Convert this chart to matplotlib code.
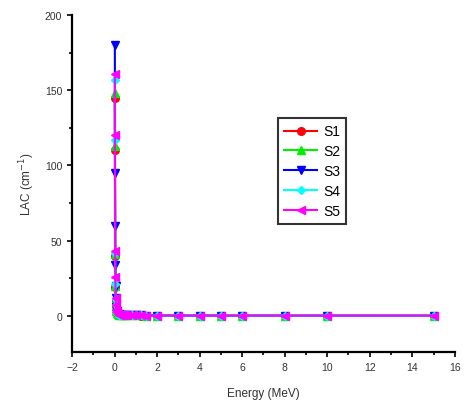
import numpy as np
import matplotlib.pyplot as plt

plt.rcParams['font.family'] = ['Liberation Sans', 'DejaVu Sans']

# photon energies (MeV)
energy = [0.015, 0.02, 0.03, 0.04, 0.05, 0.06, 0.08, 0.1, 0.15, 0.2, 0.3, 0.4,
          0.5, 0.6, 0.8, 1.0, 1.25, 1.5, 2.0, 3.0, 4.0, 5.0, 6.0, 8.0, 10.0, 15.0]

# linear attenuation coefficients (cm^-1)
s1 = [145, 110, 40, 19, 10.5, 6.5, 3.2, 2.0, 1.0, 0.75, 0.55, 0.45,
      0.4, 0.37, 0.32, 0.29, 0.26, 0.24, 0.21, 0.18, 0.16, 0.15, 0.14, 0.13, 0.13, 0.12]
s2 = [148, 113, 41, 20, 11, 6.8, 3.4, 2.1, 1.05, 0.78, 0.57, 0.47,
      0.42, 0.38, 0.33, 0.30, 0.27, 0.25, 0.22, 0.19, 0.17, 0.16, 0.15, 0.14, 0.13, 0.13]
s3 = [180, 95, 60, 34, 20, 12, 6.0, 3.5, 1.5, 0.95, 0.62, 0.5,
      0.44, 0.4, 0.34, 0.31, 0.28, 0.25, 0.22, 0.19, 0.17, 0.16, 0.15, 0.14, 0.14, 0.13]
s4 = [157, 117, 42, 21, 11.5, 7.0, 3.5, 2.2, 1.1, 0.8, 0.58, 0.48,
      0.43, 0.39, 0.34, 0.30, 0.27, 0.25, 0.22, 0.19, 0.17, 0.16, 0.15, 0.14, 0.14, 0.13]
s5 = [161, 120, 43, 26, 12, 7.3, 3.6, 2.3, 1.15, 0.82, 0.6, 0.49,
      0.44, 0.4, 0.35, 0.31, 0.28, 0.26, 0.23, 0.2, 0.18, 0.17, 0.16, 0.15, 0.14, 0.14]

labels = ['S1', 'S2', 'S3', 'S4', 'S5']
colors = ['#ff0000', '#00ee00', '#0000ff', '#00ffff', '#ff00ff']
markers = ['o', '^', 'v', 'D', '<']

fig = plt.figure(figsize=(4.66, 4.10), dpi=100)
ax = fig.add_axes([0.1545, 0.139, 0.8215, 0.822])

for data, lab, c, m in zip([s1, s2, s3, s4, s5], labels, colors, markers):
    ax.plot(energy, data, color=c, marker=m, markersize=5.5 if m != 'D' else 4.5,
            linewidth=1.5, label=lab)

ax.set_xlim(-2, 16)
ax.set_ylim(-24, 200)
ax.set_xticks(np.arange(-2, 17, 2))
ax.set_xticks(np.arange(-2, 17, 1), minor=True)
ax.set_yticks([0, 50, 100, 150, 200])
ax.set_yticks(np.arange(0, 201, 25), minor=True)
ax.tick_params(axis='both', which='major', labelsize=7.5, direction='out',
               length=3.5, width=1.2, colors='black', labelcolor='#333333')
ax.tick_params(axis='both', which='minor', direction='out', length=2, width=1.2)

for side in ['top', 'right']:
    ax.spines[side].set_visible(False)
for side in ['left', 'bottom']:
    ax.spines[side].set_linewidth(1.6)

ax.set_xlabel('Energy (MeV)', fontsize=8.5, labelpad=11, color='#333333')
ax.set_ylabel('LAC (cm$^{-1}$)', fontsize=8.5, labelpad=6, color='#333333')

leg = ax.legend(loc='center', bbox_to_anchor=(0.627, 0.537), fontsize=10,
                frameon=True, fancybox=False, handlelength=2.4,
                handletextpad=0.4, borderpad=0.45, labelspacing=0.42)
leg.get_frame().set_edgecolor('black')
leg.get_frame().set_linewidth(1.5)

fig.savefig('out.png', dpi=100)
